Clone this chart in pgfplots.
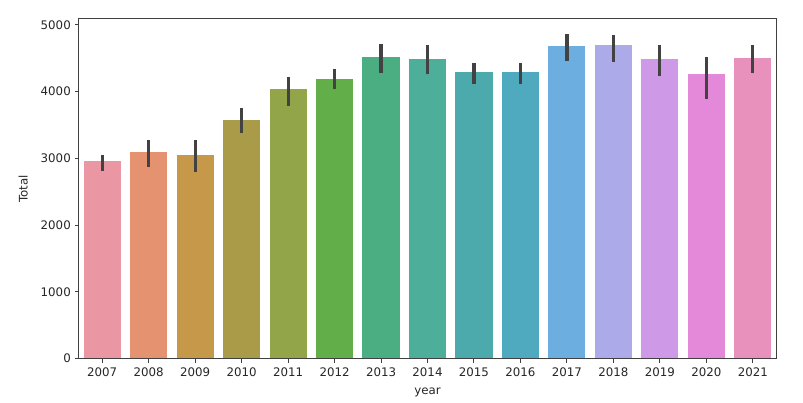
\documentclass[border=0pt]{standalone}
\usepackage{fontspec}
\setmainfont{DejaVu Sans}
\usepackage{pgfplots}
\pgfplotsset{compat=1.18}
\definecolor{c1}{RGB}{234,150,163}
\definecolor{c2}{RGB}{228,146,112}
\definecolor{c3}{RGB}{198,152,74}
\definecolor{c4}{RGB}{169,155,72}
\definecolor{c5}{RGB}{146,166,73}
\definecolor{c6}{RGB}{98,174,73}
\definecolor{c7}{RGB}{74,174,130}
\definecolor{c8}{RGB}{77,174,153}
\definecolor{c9}{RGB}{77,170,172}
\definecolor{c10}{RGB}{79,170,191}
\definecolor{c11}{RGB}{108,174,223}
\definecolor{c12}{RGB}{173,170,234}
\definecolor{c13}{RGB}{206,153,230}
\definecolor{c14}{RGB}{228,137,218}
\definecolor{c15}{RGB}{232,145,188}
\definecolor{eb}{RGB}{66,66,66}
\definecolor{txt}{RGB}{38,38,38}
\begin{document}
\fontsize{11.8bp}{14bp}\selectfont
\begin{tikzpicture}
\begin{axis}[
  scale only axis,
  width=697bp, height=339.5bp,
  xmin=-0.5, xmax=14.5, ymin=0, ymax=5087,
  xtick={0,...,14},
  xticklabels={2007,2008,2009,2010,2011,2012,2013,2014,2015,2016,2017,2018,2019,2020,2021},
  ytick={0,1000,2000,3000,4000,5000},
  scaled y ticks=false,
  /pgf/number format/assume math mode=true,
  yticklabel={\pgfmathprintnumber[fixed,precision=0,1000 sep={}]{\tick}},
  tick pos=left,
  tick align=outside,
  major tick length=4.1bp,
  tick style={line width=1bp, color=black!75},
  axis line style={line width=1bp, color=black!75},
  axis on top,
  ticklabel style={text=txt, font=\fontsize{11.8bp}{14bp}\selectfont},
  xticklabel style={yshift=-1bp},
  xlabel={year}, ylabel={Total},
  label style={text=txt, font=\fontsize{11.8bp}{14bp}\selectfont},
  xlabel style={yshift=-3bp},
  ylabel style={yshift=5bp},
  mybar/.style={ybar, bar width=0.8, bar shift=0, draw=none, fill=#1,
    error bars/.cd, y dir=both, y explicit, error mark=none,
    error bar style={line width=3.2bp, color=eb}},
]
\addplot[mybar=c1]  coordinates {(0,2954) += (0,90) -= (0,142)};
\addplot[mybar=c2]  coordinates {(1,3089) += (0,180) -= (0,221)};
\addplot[mybar=c3]  coordinates {(2,3048) += (0,221) -= (0,255)};
\addplot[mybar=c4]  coordinates {(3,3573) += (0,184) -= (0,195)};
\addplot[mybar=c5]  coordinates {(4,4042) += (0,180) -= (0,255)};
\addplot[mybar=c6]  coordinates {(5,4192) += (0,145) -= (0,159)};
\addplot[mybar=c7]  coordinates {(6,4522) += (0,195) -= (0,245)};
\addplot[mybar=c8]  coordinates {(7,4492) += (0,201) -= (0,234)};
\addplot[mybar=c9]  coordinates {(8,4288) += (0,144) -= (0,180)};
\addplot[mybar=c10] coordinates {(9,4288) += (0,144) -= (0,180)};
\addplot[mybar=c11] coordinates {(10,4678) += (0,184) -= (0,221)};
\addplot[mybar=c12] coordinates {(11,4697) += (0,145) -= (0,255)};
\addplot[mybar=c13] coordinates {(12,4492) += (0,201) -= (0,259)};
\addplot[mybar=c14] coordinates {(13,4267) += (0,255) -= (0,384)};
\addplot[mybar=c15] coordinates {(14,4507) += (0,186) -= (0,230)};
\end{axis}
\pgfresetboundingbox
\path[use as bounding box] ([shift={(-79bp,-44.5bp)}]current axis.south west) rectangle ([shift={(27bp,19bp)}]current axis.north east);
\end{tikzpicture}
\end{document}
